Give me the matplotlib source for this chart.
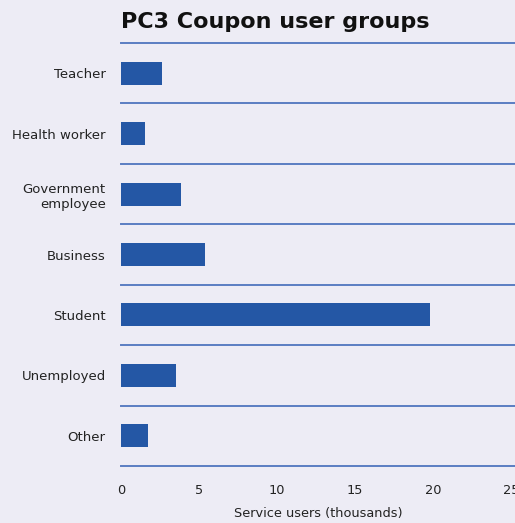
import matplotlib
matplotlib.use("Agg")
import matplotlib.pyplot as plt

# values (thousands of users)
groups = ["Teacher", "Health worker", "Government\nemployee", "Business",
          "Student", "Unemployed", "Other"]
users = [2.65, 1.55, 3.85, 5.4, 19.8, 3.5, 1.7]
xticks = [0, 5, 10, 15, 20, 25]

bg = "#edecf5"
bar_col = "#2457a5"
line_col = "#5b7ec2"

fig = plt.figure(figsize=(5.15, 5.23), dpi=100, facecolor=bg)
ax = fig.add_axes([121 / 515, 57 / 523, 394 / 515, 423 / 523])
ax.set_facecolor(bg)

pos = list(range(len(groups)))
ax.barh(pos, users, height=0.38, color=bar_col, zorder=3)
ax.set_ylim(len(groups) - 0.5, -0.5)
ax.set_xlim(0, 394 / 15.6)

# separators between the categories
for b in range(len(groups) + 1):
    ax.axhline(b - 0.5, color=line_col, lw=1.4, zorder=2, clip_on=False)

ax.set_yticks(pos)
ax.set_yticklabels(groups, fontsize=9.5, color="#222222")
ax.set_xticks(xticks)
ax.set_xticklabels([str(t) for t in xticks], fontsize=9.3, color="#222222")
ax.tick_params(axis="both", length=0)
ax.tick_params(axis="y", pad=11)
ax.tick_params(axis="x", pad=13)
for s in ax.spines.values():
    s.set_visible(False)

ax.set_xlabel("Service users (thousands)", fontsize=9.3, color="#222222", labelpad=7)

fig.text(121 / 515, 1 - 28 / 523, "PC3 Coupon user groups", fontsize=16,
         fontweight="bold", color="#111111", ha="left", va="baseline")

fig.savefig("out.png", dpi=100, facecolor=bg)
